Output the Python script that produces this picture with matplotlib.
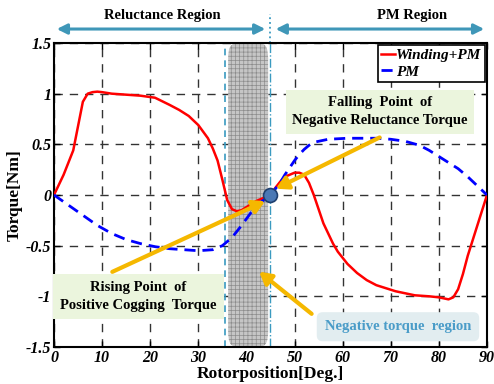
import matplotlib
matplotlib.use("Agg")
import matplotlib.pyplot as plt
from matplotlib.patches import FancyBboxPatch

plt.rcParams['font.family'] = ['Liberation Serif', 'DejaVu Serif']
plt.rcParams['hatch.linewidth'] = 0.5

# data
red_deg = [0, 1, 2, 3, 4, 5, 6, 7, 8, 9, 10, 12, 15, 18, 21, 24, 26, 28, 30, 32, 33, 34,
           35, 35.5, 36, 37, 38, 39, 40, 41, 42, 43, 44, 45, 46, 47, 48, 49, 50, 51, 52,
           53, 54, 55, 56, 57, 58, 59, 60, 61, 63, 65, 67, 69, 71, 73, 75, 78, 80, 82, 83,
           84, 85, 86, 87, 88, 89, 90]
red_torque = [0.0, 0.1, 0.2, 0.32, 0.44, 0.68, 0.92, 1.0, 1.015, 1.02, 1.015, 1.0, 0.99,
              0.98, 0.96, 0.89, 0.84, 0.78, 0.69, 0.56, 0.46, 0.34, 0.15, 0.05, -0.05,
              -0.14, -0.16, -0.15, -0.12, -0.09, -0.06, -0.04, -0.02, 0.0, 0.07, 0.13, 0.18,
              0.2, 0.22, 0.22, 0.2, 0.12, 0.0, -0.14, -0.28, -0.38, -0.48, -0.56, -0.62,
              -0.68, -0.77, -0.84, -0.89, -0.92, -0.95, -0.97, -0.99, -1.0, -1.01, -1.03,
              -1.01, -0.93, -0.78, -0.6, -0.45, -0.3, -0.15, 0.0]

pm_deg = [0, 3, 6, 9, 12, 15, 18, 21, 24, 27, 30, 33, 35, 37, 39, 41, 43, 45, 46, 47, 48,
          49, 50, 51, 52, 53, 54, 57, 61, 64, 67, 70, 73, 76, 78, 80, 82, 84, 86, 88, 90]
pm_torque = [0.0, -0.1, -0.2, -0.3, -0.38, -0.44, -0.48, -0.51, -0.53, -0.54, -0.55, -0.54,
             -0.5, -0.42, -0.3, -0.17, -0.07, 0.0, 0.06, 0.12, 0.2, 0.27, 0.34, 0.4, 0.45,
             0.49, 0.52, 0.55, 0.56, 0.56, 0.56, 0.55, 0.53, 0.49, 0.44, 0.38, 0.32, 0.26,
             0.18, 0.09, 0.0]

x_ticks = [0, 10, 20, 30, 40, 50, 60, 70, 80, 90]
y_ticks = [-1.5, -1, -0.5, 0, 0.5, 1, 1.5]
y_labels = ['-1.5', '-1', '-0.5', '0', '0.5', '1', '1.5']

fig = plt.figure(figsize=(4.94, 3.84), dpi=100)
ax = fig.add_axes([0.1093, 0.0964, 0.8765, 0.7916])

# shaded transition region
band = FancyBboxPatch((36.2, -1.49), 8.3, 2.98, boxstyle="round,pad=0,rounding_size=1.2",
                      mutation_aspect=0.12, facecolor='#c6c6c6', edgecolor='#8c8c8c',
                      hatch='++++', linewidth=0, zorder=1)
ax.add_patch(band)
ax.axvline(35.5, color='#3a9ac0', ls=(0, (4, 3)), lw=1.2, zorder=2)
ax.axvline(45, color='#3a9ac0', ls='-.', lw=1.0, zorder=2)

ax.grid(True, color='#333333', ls=(0, (6, 5)), lw=1.0, zorder=0)
ax.set_axisbelow(True)

ax.plot(red_deg, red_torque, color='red', lw=1.8, label='Winding+PM', zorder=4)
ax.plot(pm_deg, pm_torque, color='blue', lw=2.0, ls=(0, (4, 2.5)), label='PM', zorder=4)

ax.set_xlim(0, 90)
ax.set_ylim(-1.5, 1.5)
ax.set_xticks(x_ticks)
ax.set_yticks(y_ticks)
ax.set_yticklabels(y_labels)
ax.tick_params(direction='in', top=True, right=True, length=4, width=1, pad=2)
for lab in ax.get_xticklabels() + ax.get_yticklabels():
    lab.set_fontweight('bold')
    lab.set_fontstyle('italic')
    lab.set_fontsize(11.5)
for s in ax.spines.values():
    s.set_linewidth(1.5)

ax.set_xlabel('Rotorposition[Deg.]', fontsize=12.5, fontweight='bold', labelpad=0)
ax.set_ylabel('Torque[Nm]', fontsize=12.5, fontweight='bold', labelpad=2)

leg = ax.legend(loc='upper right', prop={'weight': 'bold', 'style': 'italic', 'size': 11},
                handlelength=0.9, handletextpad=0.1, borderpad=0.2, labelspacing=0.2,
                fancybox=False, edgecolor='black', framealpha=1, borderaxespad=0.15)
leg.get_frame().set_linewidth(1.2)

# annotation boxes
box_kw = dict(boxstyle='square,pad=0.45', facecolor='#ebf5dd', edgecolor='none')
ax.text(67.8, 0.82, 'Falling  Point  of\nNegative Reluctance Torque', ha='center', va='center',
        fontsize=10.5, fontweight='bold', bbox=box_kw, zorder=5, linespacing=1.5)
ax.text(17.5, -1.0, 'Rising Point  of\nPositive Cogging  Torque', ha='center', va='center',
        fontsize=10.5, fontweight='bold', bbox=dict(boxstyle='square,pad=0.5', facecolor='#ebf5dd',
                                                   edgecolor='none'), zorder=5, linespacing=1.5)
ax.text(71.5, -1.3, 'Negative torque  region', ha='center', va='center', fontsize=10.5,
        fontweight='bold', color='#4a9cc8',
        bbox=dict(boxstyle='round,pad=0.55,rounding_size=0.4', facecolor='#e2edf0', edgecolor='none'),
        zorder=5)

arrow_kw = dict(arrowstyle='-|>,head_length=0.7,head_width=0.4', color='#f5b800', lw=3)
ax.annotate('', xy=(45.6, 0.05), xytext=(68.2, 0.58), arrowprops=arrow_kw, zorder=6)
ax.annotate('', xy=(44.4, -0.05), xytext=(11.6, -0.77), arrowprops=arrow_kw, zorder=6)
ax.annotate('', xy=(42.2, -0.74), xytext=(54.0, -1.19), arrowprops=arrow_kw, zorder=6)

ax.plot([45], [0], 'o', ms=10, mfc='#4a78b5', mec='#1f3f6e', mew=1.2, zorder=7)

# region arrows above the axes
trans = ax.get_xaxis_transform()
ax.annotate('', xy=(0, 1.046), xytext=(44.5, 1.046), xycoords=trans, textcoords=trans,
            arrowprops=dict(arrowstyle='<|-|>,head_length=0.6,head_width=0.3', color='#3f97b8', lw=2.2),
            annotation_clip=False)
ax.annotate('', xy=(45.5, 1.046), xytext=(90, 1.046), xycoords=trans, textcoords=trans,
            arrowprops=dict(arrowstyle='<|-|>,head_length=0.6,head_width=0.3', color='#3f97b8', lw=2.2),
            annotation_clip=False)
ax.plot([45, 45], [1.0, 1.095], transform=trans, color='#3a9ac0', ls=':', lw=1.3, clip_on=False)
ax.text(22.5, 1.092, 'Reluctance Region', transform=trans, ha='center', va='center',
        fontsize=10.5, fontweight='bold')
ax.text(74.5, 1.092, 'PM Region', transform=trans, ha='center', va='center',
        fontsize=10.5, fontweight='bold')

fig.savefig('out.png', dpi=100)
